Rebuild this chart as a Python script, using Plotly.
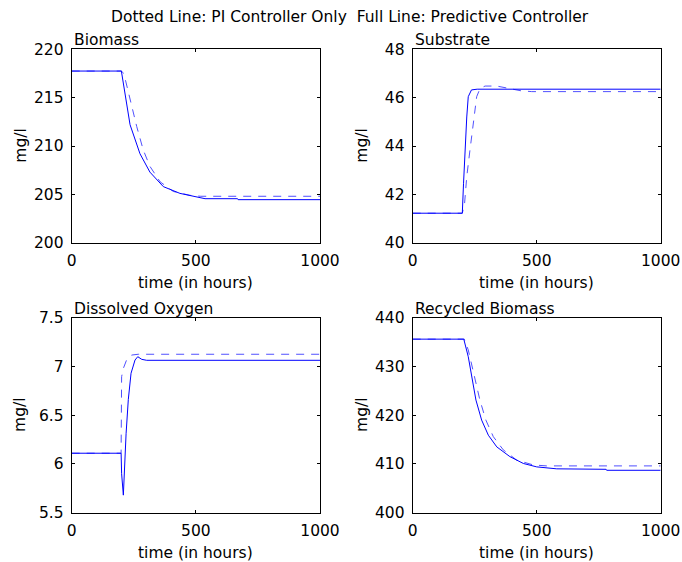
import plotly.graph_objects as go

# ---------------- data ----------------
# Biomass
bio_t_pred = [0, 200, 235, 275, 315, 369, 436, 503, 537, 668, 670, 1000]
bio_v_pred = [217.75, 217.75, 212.2, 209.2, 207.3, 205.8, 205.1, 204.7, 204.55, 204.55, 204.45, 204.45]
bio_t_pi = [0, 200, 210, 235, 262, 288, 315, 356, 409, 476, 520, 1000]
bio_v_pi = [217.75, 217.75, 217.5, 214.8, 212.0, 209.6, 207.9, 206.3, 205.3, 204.9, 204.8, 204.8]

# Substrate
sub_t_pred = [0, 200, 205, 211, 218, 224, 237, 260, 1000]
sub_v_pred = [41.22, 41.22, 42.46, 43.84, 45.2, 46.04, 46.32, 46.35, 46.35]
sub_t_pi = [0, 200, 209, 218, 231, 245, 258, 272, 292, 339, 379, 433, 480, 1000]
sub_v_pi = [41.22, 41.22, 41.6, 42.73, 43.84, 44.94, 46.04, 46.39, 46.48, 46.48, 46.39, 46.29, 46.25, 46.25]

# Dissolved oxygen
do_t_pred = [0, 199, 201, 208, 219, 228, 239, 255, 266, 282, 302, 1000]
do_v_pred = [6.11, 6.11, 5.9, 5.68, 6.31, 6.66, 6.93, 7.066, 7.10, 7.073, 7.063, 7.063]
do_t_pi = [0, 199, 201, 208, 221, 242, 268, 1000]
do_v_pi = [6.11, 6.11, 6.895, 6.98, 7.066, 7.117, 7.125, 7.125]

# Recycled biomass
rec_t_pred = [0, 206, 224, 238, 255, 278, 305, 339, 392, 446, 500, 581, 780, 782, 1000]
rec_v_pred = [435.6, 435.6, 432.0, 427.9, 423.1, 419.0, 415.9, 413.5, 411.5, 410.1, 409.4, 409.0, 408.9, 408.7, 408.7]
rec_t_pi = [0, 208, 224, 238, 251, 271, 295, 325, 365, 419, 486, 540, 1000]
rec_v_pi = [435.6, 435.6, 433.4, 430.3, 427.2, 423.1, 419.0, 415.6, 412.9, 410.8, 409.8, 409.6, 409.6]

panels = [
    ("Biomass", bio_t_pred, bio_v_pred, bio_t_pi, bio_v_pi, [200, 220], [200, 205, 210, 215, 220], ["200", "205", "210", "215", "220"]),
    ("Substrate", sub_t_pred, sub_v_pred, sub_t_pi, sub_v_pi, [40, 48], [40, 42, 44, 46, 48], ["40", "42", "44", "46", "48"]),
    ("Dissolved Oxygen", do_t_pred, do_v_pred, do_t_pi, do_v_pi, [5.5, 7.5], [5.5, 6, 6.5, 7, 7.5], ["5.5", "6", "6.5", "7", "7.5"]),
    ("Recycled Biomass", rec_t_pred, rec_v_pred, rec_t_pi, rec_v_pi, [400, 440], [400, 410, 420, 430, 440], ["400", "410", "420", "430", "440"]),
]
x_ticks = [0, 500, 1000]
x_ticklabels = ["0", "500", "1000"]
suptitle = "Dotted Line: PI Controller Only  Full Line: Predictive Controller"
x_title = "time (in hours)"
y_title = "mg/l"

# ---------------- layout geometry ----------------
W, H = 682, 562
FONT = "DejaVu Sans, Arial, sans-serif"
FS = 15.5
xdoms = [[71.7 / W, 320.0 / W], [412.7 / W, 660.7 / W]]
ydoms = [[1 - 242.7 / H, 1 - 49.3 / H], [1 - 512.7 / H, 1 - 317.7 / H]]

fig = go.Figure()
annotations = []
layout = {}
for i, (name, tp, vp, ti, vi, yr, yt, ytl) in enumerate(panels):
    row, col = divmod(i, 2)
    n = "" if i == 0 else str(i + 1)
    xa, ya = "x" + n, "y" + n
    fig.add_trace(go.Scatter(x=ti, y=vi, mode="lines", xaxis=xa, yaxis=ya,
                             line=dict(color="rgb(80,80,255)", width=1, dash="8px,7px"),
                             showlegend=False, hoverinfo="skip"))
    fig.add_trace(go.Scatter(x=tp, y=vp, mode="lines", xaxis=xa, yaxis=ya,
                             line=dict(color="rgb(0,0,255)", width=1),
                             showlegend=False, hoverinfo="skip"))
    common = dict(showline=True, linecolor="black", linewidth=1, mirror="ticks",
                  ticks="inside", ticklen=3, tickcolor="black", tickwidth=1,
                  showgrid=False, zeroline=False, automargin=False,
                  tickfont=dict(family=FONT, size=FS, color="black"))
    layout["xaxis" + n] = dict(domain=xdoms[col], anchor=ya, range=[0, 1000],
                               tickmode="array", tickvals=x_ticks, ticktext=x_ticklabels,
                               ticklabelstandoff=4, **common)
    layout["yaxis" + n] = dict(domain=ydoms[row], anchor=xa, range=yr,
                               tickmode="array", tickvals=yt, ticktext=ytl,
                               ticklabelstandoff=4, **common)
    x0, x1 = xdoms[col]
    y0, y1 = ydoms[row]
    annotations.append(dict(text=name, xref="paper", yref="paper", x=x0, y=y1,
                            xanchor="left", yanchor="bottom", showarrow=False, yshift=-2,
                            font=dict(family=FONT, size=FS, color="black")))
    annotations.append(dict(text=x_title, xref="paper", yref="paper", x=(x0 + x1) / 2,
                            y=y0 - 29 / H, xanchor="center", yanchor="top", showarrow=False,
                            font=dict(family=FONT, size=FS, color="black")))
    annotations.append(dict(text=y_title, xref="paper", yref="paper", x=x0 - 51 / W,
                            y=(y0 + y1) / 2, xanchor="center", yanchor="middle", showarrow=False,
                            textangle=-90, font=dict(family=FONT, size=FS, color="black")))

annotations.append(dict(text=suptitle, xref="paper", yref="paper", x=350 / W, y=1 - 17 / H,
                        xanchor="center", yanchor="middle", showarrow=False,
                        font=dict(family=FONT, size=FS, color="black")))

fig.update_layout(width=W, height=H, margin=dict(l=0, r=0, t=0, b=0, pad=0, autoexpand=False),
                  paper_bgcolor="white", plot_bgcolor="white", hovermode=False,
                  annotations=annotations, **layout)
fig.write_html("out.html", config={"displayModeBar": False},
               post_script="document.body.style.margin='0px';")
